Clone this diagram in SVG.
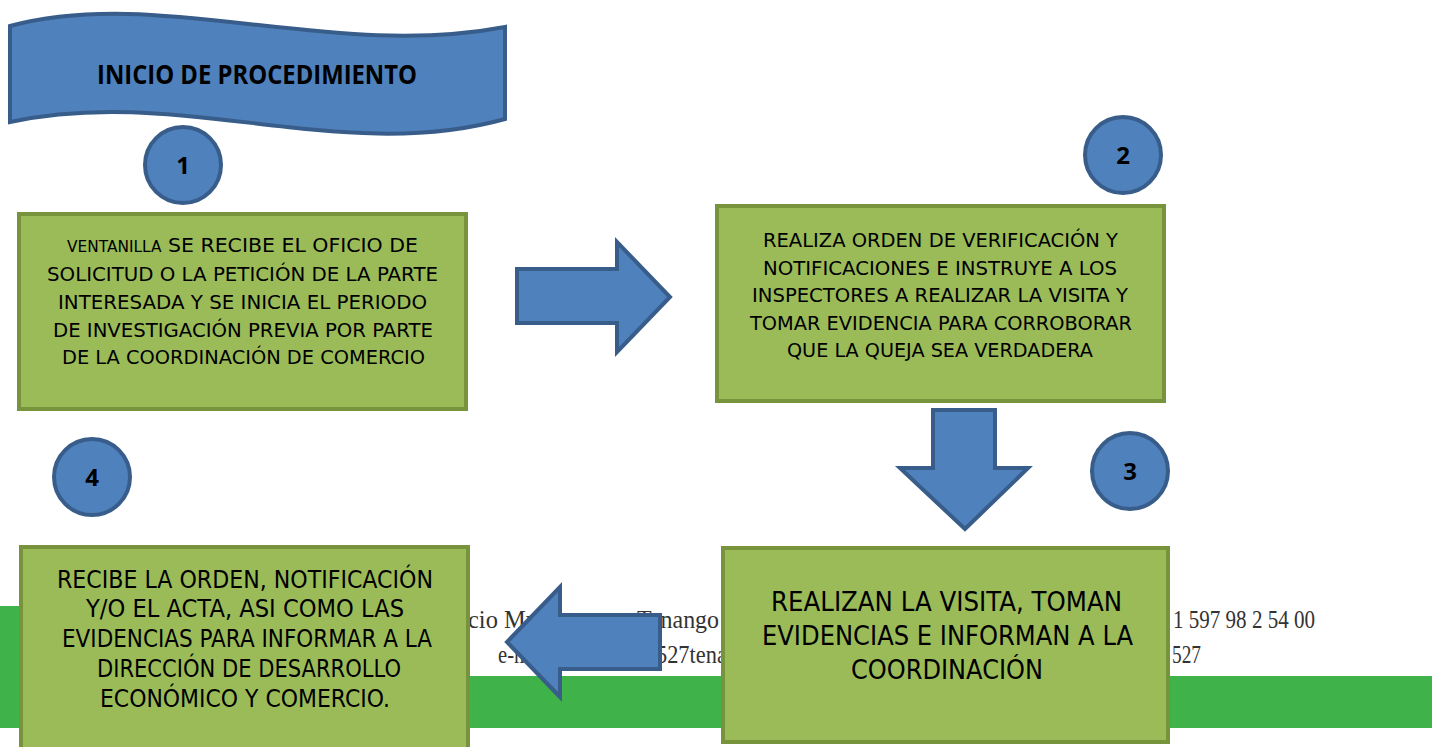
<svg xmlns="http://www.w3.org/2000/svg" width="1432" height="747" viewBox="0 0 1432 747">
<style>
.bg{fill:#ffffff}
.band{fill:#3fb24a}
.ft{font-family:"Liberation Serif",serif;font-size:25px;fill:#333333}
.box{fill:#9bbb59;stroke:#77933c;stroke-width:4}
.blue{fill:#4f81bd;stroke:#385d8a;stroke-width:4;stroke-linejoin:miter}
.bt{font-family:"DejaVu Sans","Noto Sans",sans-serif;font-size:20px;fill:#000}
.bt3{font-family:"DejaVu Sans","Noto Sans",sans-serif;font-size:27px;fill:#000}
.bt4{font-family:"DejaVu Sans","Noto Sans",sans-serif;font-size:24px;fill:#000}
.num{font-family:"Open Sans","Liberation Sans",sans-serif;font-size:24px;font-weight:bold;fill:#000;text-anchor:middle}
.title{font-family:"Open Sans","Liberation Sans",sans-serif;font-size:26px;font-weight:bold;fill:#000}
</style>
<rect class="bg" x="0" y="0" width="1432" height="747"/>
<g id="letterhead">
<rect class="band" x="0" y="606" width="40" height="122"/>
<rect class="band" x="0" y="676" width="1432" height="52"/>
<text class="ft" x="468" y="628" textLength="70" lengthAdjust="spacingAndGlyphs">cio Mu</text>
<text class="ft" x="637" y="628" textLength="100" lengthAdjust="spacingAndGlyphs">Tenango d</text>
<text class="ft" x="498" y="663" textLength="32" lengthAdjust="spacingAndGlyphs">e-m</text>
<text class="ft" x="656" y="663" textLength="82" lengthAdjust="spacingAndGlyphs">527tenan</text>
<text class="ft" x="1173" y="628" textLength="142" lengthAdjust="spacingAndGlyphs">1 597 98 2 54 00</text>
<text class="ft" x="1172" y="663" textLength="29" lengthAdjust="spacingAndGlyphs">527</text>
</g>
<g id="banner">
<path class="blue" d="M10,26 C160,-14 330,60 505,27 L505,119 C340,165 180,85 10,122 Z"/>
<text class="title" x="97" y="84" textLength="320" lengthAdjust="spacingAndGlyphs">INICIO DE PROCEDIMIENTO</text>
</g>
<g id="connectors">
<path class="blue" d="M517,269 L617,269 L617,242 L670,297 L617,352 L617,323 L517,323 Z"/>
<path class="blue" d="M933,410 L995,410 L995,468 L1028,468 L965,529 L900,468 L933,468 Z"/>
<path class="blue" d="M660,615 L560,615 L560,587 L507,642 L560,697 L560,669 L660,669 Z"/>
</g>
<g id="node1">
<rect class="box" x="19" y="214" width="447" height="195"/>
<text class="bt" x="67" y="252" textLength="351" lengthAdjust="spacingAndGlyphs"><tspan font-size="15">VENTANILLA</tspan> SE RECIBE EL OFICIO DE</text>
<text class="bt" x="47" y="281" textLength="391" lengthAdjust="spacingAndGlyphs">SOLICITUD O LA PETICIÓN DE LA PARTE</text>
<text class="bt" x="58" y="309" textLength="369" lengthAdjust="spacingAndGlyphs">INTERESADA Y SE INICIA EL PERIODO</text>
<text class="bt" x="53" y="337" textLength="380" lengthAdjust="spacingAndGlyphs">DE INVESTIGACIÓN PREVIA POR PARTE</text>
<text class="bt" x="62" y="364" textLength="363" lengthAdjust="spacingAndGlyphs">DE LA COORDINACIÓN DE COMERCIO</text>
</g>
<g id="node2">
<rect class="box" x="717" y="206" width="447" height="195"/>
<text class="bt" x="763" y="247" textLength="355" lengthAdjust="spacingAndGlyphs">REALIZA ORDEN DE VERIFICACIÓN Y</text>
<text class="bt" x="763" y="275" textLength="354" lengthAdjust="spacingAndGlyphs">NOTIFICACIONES E INSTRUYE A LOS</text>
<text class="bt" x="752" y="302" textLength="376" lengthAdjust="spacingAndGlyphs">INSPECTORES A REALIZAR LA VISITA Y</text>
<text class="bt" x="750" y="330" textLength="382" lengthAdjust="spacingAndGlyphs">TOMAR EVIDENCIA PARA CORROBORAR</text>
<text class="bt" x="787" y="357" textLength="306" lengthAdjust="spacingAndGlyphs">QUE LA QUEJA SEA VERDADERA</text>
</g>
<g id="node3">
<rect class="box" x="723" y="548" width="445" height="194"/>
<text class="bt3" x="771" y="611" textLength="351" lengthAdjust="spacingAndGlyphs">REALIZAN LA VISITA, TOMAN</text>
<text class="bt3" x="762" y="645" textLength="371" lengthAdjust="spacingAndGlyphs">EVIDENCIAS E INFORMAN A LA</text>
<text class="bt3" x="851" y="679" textLength="192" lengthAdjust="spacingAndGlyphs">COORDINACIÓN</text>
</g>
<g id="node4">
<rect class="box" x="21" y="547" width="447" height="210"/>
<text class="bt4" x="57" y="588" textLength="376" lengthAdjust="spacingAndGlyphs">RECIBE LA ORDEN, NOTIFICACIÓN</text>
<text class="bt4" x="86" y="617" textLength="318" lengthAdjust="spacingAndGlyphs">Y/O EL ACTA, ASI COMO LAS</text>
<text class="bt4" x="62" y="647" textLength="370" lengthAdjust="spacingAndGlyphs">EVIDENCIAS PARA INFORMAR A LA</text>
<text class="bt4" x="97" y="677" textLength="304" lengthAdjust="spacingAndGlyphs">DIRECCIÓN DE DESARROLLO</text>
<text class="bt4" x="100" y="707" textLength="290" lengthAdjust="spacingAndGlyphs">ECONÓMICO Y COMERCIO.</text>
</g>
<g id="step1">
<circle class="blue" cx="183" cy="165" r="38"/>
<text class="num" x="183" y="174">1</text>
</g>
<g id="step2">
<circle class="blue" cx="1123" cy="155" r="38"/>
<text class="num" x="1123" y="164">2</text>
</g>
<g id="step3">
<circle class="blue" cx="1130" cy="471" r="38"/>
<text class="num" x="1130" y="480">3</text>
</g>
<g id="step4">
<circle class="blue" cx="92" cy="477" r="38"/>
<text class="num" x="92" y="486">4</text>
</g>
</svg>
